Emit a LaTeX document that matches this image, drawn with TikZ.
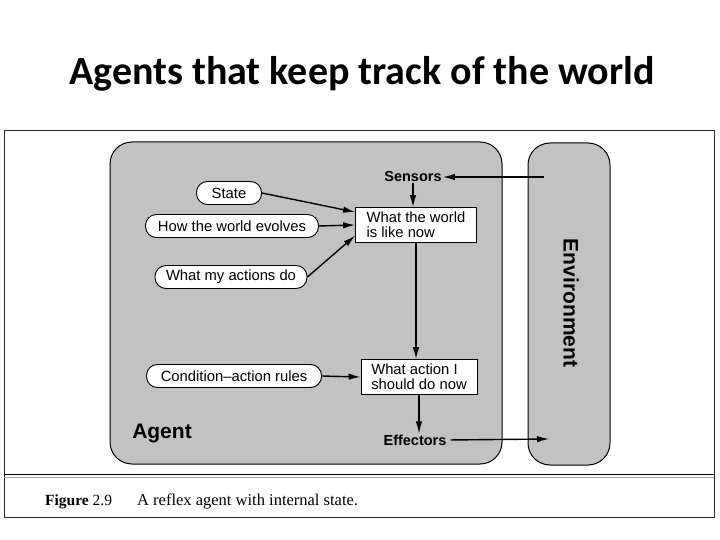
\documentclass[tikz,border=0pt]{standalone}
\usepackage{fontspec}
\setmainfont{Liberation Sans}
\newfontfamily\titlefont{Carlito}
\newfontfamily\capfont{Liberation Serif}
\usetikzlibrary{arrows.meta,calc}
\begin{document}
\begin{tikzpicture}[x=1pt,y=-1pt,
  panel/.style={draw=black,line width=1pt,fill=black!24,rounded corners=22pt},
  pill/.style={draw=black,line width=0.9pt,fill=white,rounded corners=11pt,minimum height=23pt,inner sep=0pt,font=\fontsize{14.8}{16}\selectfont},
  infobox/.style={draw=black,line width=0.8pt,fill=white,minimum height=35pt,inner sep=0pt,align=left,font=\fontsize{14.8}{15}\selectfont},
  lbl/.style={font=\fontsize{14.5}{16}\selectfont\bfseries,inner sep=1pt},
  arr/.style={line width=1.4pt,-{Latex[length=12pt,width=6.5pt]}}
]
\useasboundingbox (0,0) rectangle (720,540);
% title
\node[font=\titlefont\fontsize{40}{44}\selectfont\bfseries,anchor=base] (title) at (362,85) {Agents that keep track of the world};
% figure frame
\draw[line width=1pt,draw=black!85] (4,131) rectangle (714,517);
\draw[line width=1pt] (4,474) -- (714,474);
\draw[line width=0.8pt,draw=black!35] (4,477.5) -- (714,477.5);
% panels
\draw[panel] (110,142) rectangle (502,464);
\draw[panel] (528,143) rectangle (610,465);
% nodes
\node[pill,minimum width=65pt] (state) at (229,193) {State};
\node[pill,minimum width=173pt] (evolves) at (232,226) {How the world evolves};
\node[pill,minimum width=152pt] (actions) at (231,277) {What my actions do};
\node[pill,minimum width=175pt] (rules) at (234,376) {Condition--action rules};
\node[infobox,minimum width=121pt] (wnow) at (416,225) {What the world\\is like now};
\node[infobox,minimum width=116pt] (anow) at (419,377) {What action I\\should do now};
\node[lbl] (sensors) at (413,177) {Sensors};
\node[lbl] (effectors) at (415,440) {Effectors};
\node[font=\fontsize{21}{24}\selectfont\bfseries] (agent) at (162,433) {Agent};
\node[font=\fontsize{21}{24}\selectfont\bfseries,rotate=-90] (env) at (571,303) {Environment};
\coordinate (envin) at (544,177);
\coordinate (envout) at (549,439);
% connectors
\draw[arr] (envin) -- (sensors.east);
\draw[arr] (sensors.south) -- (sensors.south |- wnow.north);
\draw[arr] (state.east) -- (wnow.168);
\draw[arr] (evolves.east) -- (wnow.west);
\draw[arr] (actions.east) -- (wnow.190);
\draw[arr] (wnow.south) -- (wnow.south |- anow.north);
\draw[arr] (rules.east) -- (anow.west);
\draw[arr] (anow.south) -- (anow.south |- effectors.north);
\draw[arr,shorten <=3pt] (effectors.east) -- (envout);
% caption
\node[font=\capfont\fontsize{15.5}{18}\selectfont,anchor=base west,inner sep=0pt] (figlbl) at (45,505) {\textbf{Figure} 2.9};
\node[font=\capfont\fontsize{16.5}{18}\selectfont,anchor=base west,inner sep=0pt] (caption) at (137,505) {A reflex agent with internal state.};
\end{tikzpicture}
\end{document}
